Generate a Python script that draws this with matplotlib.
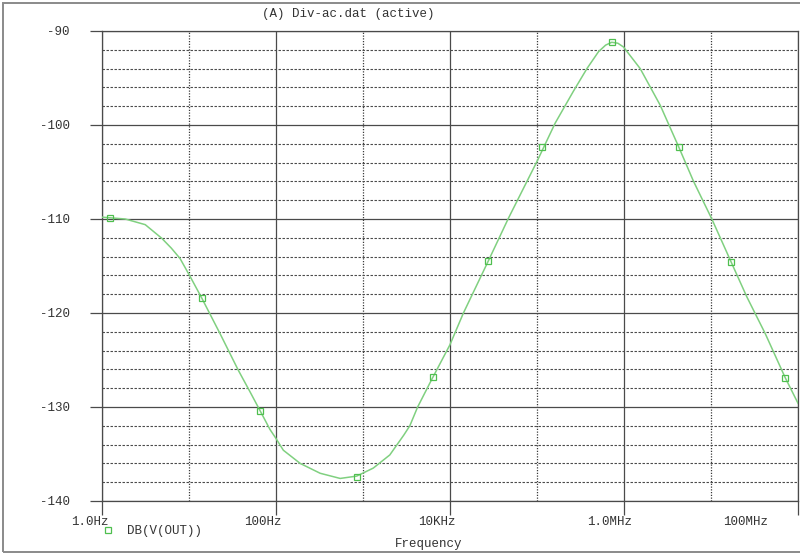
import matplotlib
matplotlib.use("Agg")
import matplotlib.pyplot as plt
import numpy as np
from matplotlib.lines import Line2D
from matplotlib.patches import Rectangle
from matplotlib.ticker import FixedLocator, NullFormatter
from matplotlib.transforms import ScaledTranslation

# DB(V(OUT)) trace (log10 of frequency in Hz, dB)
curve_log_f = [0.0, 0.27, 0.5, 0.69, 0.80, 0.90, 1.015, 1.149, 1.36, 1.57, 1.705, 1.82,
               1.934, 1.992, 2.087, 2.28, 2.51, 2.74, 2.93, 3.12, 3.31, 3.47, 3.54,
               3.63, 3.79, 4.0, 4.156, 4.44, 4.674, 5.0, 5.21, 5.42, 5.575, 5.708,
               5.79, 5.86, 5.93, 5.995, 6.187, 6.417, 6.628, 6.8, 7.01, 7.233, 7.413,
               7.624, 7.854, 8.0]
curve_db = [-109.8, -110.0, -110.6, -112.05, -113.1, -114.2, -116.1, -118.4, -122.2,
            -126.1, -128.4, -130.4, -132.4, -133.2, -134.6, -136.0, -137.05, -137.6,
            -137.35, -136.5, -135.1, -133.0, -132.0, -130.0, -127.1, -123.4, -120.0,
            -114.5, -109.9, -103.9, -99.8, -96.4, -94.0, -92.2, -91.5, -91.2, -91.3,
            -91.7, -94.0, -97.9, -102.3, -106.0, -110.0, -114.6, -118.3, -122.2,
            -126.9, -129.6]

# symbols PSpice puts along the trace
marker_log_f = [0.095, 1.149, 1.82, 2.93, 3.81, 4.44, 5.057, 5.86, 6.628, 7.233, 7.854]
marker_db = [-109.85, -118.4, -130.4, -137.4, -126.8, -114.5, -102.3, -91.2, -102.3,
             -114.6, -126.9]

x_major = [1, 1e2, 1e4, 1e6, 1e8]
x_minor = [1e1, 1e3, 1e5, 1e7]
x_labels = ["1.0Hz", "100Hz", "10KHz", "1.0MHz", "100MHz"]
x_label_shift = [-12, -12.5, -12.5, -14.5, -52.5]  # px, PSpice draws them off the grid
y_major = [-90, -100, -110, -120, -130, -140]
y_minor = [v for v in range(-138, -90, 2) if v % 10 != 0]

MONO = "Liberation Mono"
TRACE = "#80d080"
SYMBOL = "#4fbf4f"
GRID = "#4a4a4a"
TEXT = "#333333"

W, H = 800, 555
fig = plt.figure(figsize=(8, 5.55), dpi=100)
ax = fig.add_axes([101.7 / W, 1 - 501 / H, (798 - 101.7) / W, (501 - 31) / H])

freq = 10 ** np.array(curve_log_f)
ax.plot(freq, curve_db, color=TRACE, lw=1.1, zorder=3)
ax.plot(10 ** np.array(marker_log_f), marker_db, ls="none", marker="s", ms=4.5,
        mfc="none", mec=SYMBOL, mew=0.9, zorder=4)

ax.set_xscale("log")
ax.set_xlim(1, 1e8)
ax.set_ylim(-140, -90)

ax.xaxis.set_major_locator(FixedLocator(x_major))
ax.xaxis.set_minor_locator(FixedLocator(x_minor))
ax.xaxis.set_minor_formatter(NullFormatter())
ax.set_xticklabels(x_labels)
ax.yaxis.set_major_locator(FixedLocator(y_major))
ax.yaxis.set_minor_locator(FixedLocator(y_minor))
ax.set_yticklabels([str(v) for v in y_major])

ax.tick_params(which="major", axis="x", direction="out", length=10, width=0.9,
               color=GRID, pad=1, labelsize=9, labelcolor=TEXT)
ax.tick_params(which="major", axis="y", direction="out", length=9, width=0.9,
               color=GRID, pad=14, labelsize=9, labelcolor=TEXT)
ax.tick_params(which="minor", length=0)
for lab in ax.get_xticklabels() + ax.get_yticklabels():
    lab.set_fontfamily(MONO)

for lab, dx in zip(ax.get_xticklabels(), x_label_shift):
    lab.set_transform(lab.get_transform() + ScaledTranslation(dx / 100, 0, fig.dpi_scale_trans))

ax.grid(True, which="major", color=GRID, lw=0.9, ls="-")
ax.yaxis.grid(True, which="minor", color=GRID, lw=0.8, ls=(0, (2.2, 1.4)))
ax.xaxis.grid(True, which="minor", color="#3a3a3a", lw=0.9, ls=(0, (1.0, 1.2)))
ax.set_axisbelow(True)
for s in ax.spines.values():
    s.set_color(GRID)
    s.set_linewidth(0.9)

fig.text(348 / W, 1 - 14 / H, "(A) Div-ac.dat (active)", ha="center", va="center",
         family=MONO, fontsize=9, color=TEXT)
fig.text(429 / W, 1 - 544 / H, "Frequency", ha="center", va="center",
         family=MONO, fontsize=9, color=TEXT)

proxy = Line2D([], [], ls="none", marker="s", ms=4.5, mfc="none", mec=SYMBOL, mew=0.9)
leg = fig.legend(handles=[proxy], labels=["DB(V(OUT))"], loc="center left",
                 bbox_to_anchor=(101.5 / W, 1 - 531 / H), frameon=False, borderpad=0,
                 borderaxespad=0, handlelength=1.0, handletextpad=1.04,
                 prop={"family": MONO, "size": 9})
for t in leg.get_texts():
    t.set_color(TEXT)

# window frame of the screenshot
fig.add_artist(Rectangle((2.5 / W, 3 / H), 1.0, 1 - 5.5 / H, transform=fig.transFigure,
                         fill=False, ec="#8a8a8a", lw=1.4, clip_on=False))

fig.savefig("out.png", dpi=100)
